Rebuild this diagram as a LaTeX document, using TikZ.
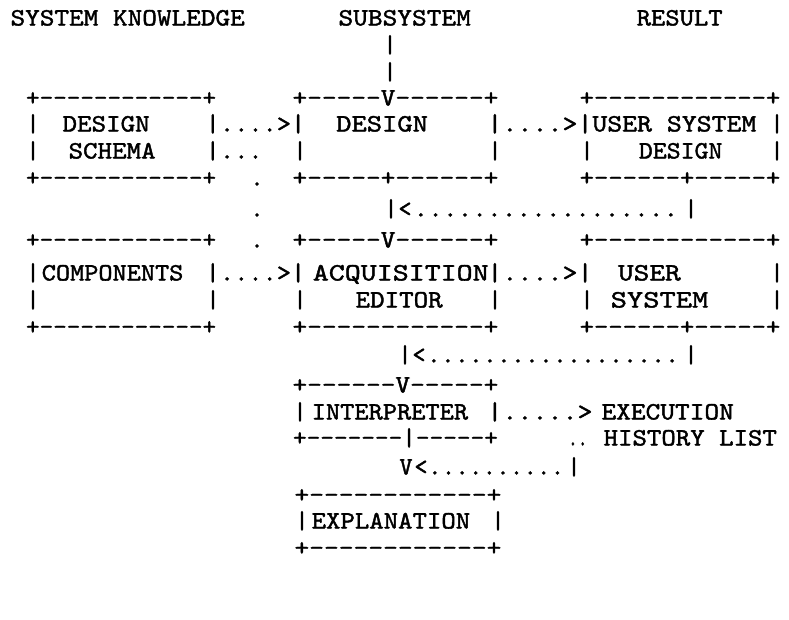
\documentclass[tikz,border=0pt]{standalone}
\usepackage{fontspec}
\usepackage{graphicx}
\newfontfamily\scanfont{lmmono10-regular.otf}[FakeBold=1.5]
\newcommand\cw{13.3875}
\tikzset{txt/.style={inner sep=0pt, outer sep=0pt, text=black,
  font=\scanfont\fontsize{25}{30}\selectfont}}
% centre height of each printed line
\newcommand\rowy[1]{\ifcase#1 18\or 45\or 72\or 98\or 124\or 151\or 178\or 209\or 240\or 273\or 300\or 327\or 355\or 385\or 412\or 438\or 467\or 495\or 521\or 548\fi}
% segment: name, first-char centre x, last-char centre x, row, number of chars, text
\newcommand\sg[6]{%
  \pgfmathsetmacro\sgpitch{(#3-#2)/(#5-1)}%
  \pgfmathsetmacro\sgscale{\sgpitch/\cw}%
  \node[txt, anchor=base west] (#1) at ({#2-\sgpitch/2},{\rowy{#4}+7.5}) {\scalebox{\sgscale}[1]{#6}};}
% single character centred at x
\newcommand\ch[4]{\node[txt, anchor=base] (#1) at (#2,{\rowy{#3}+7.5}) {#4};}
\begin{document}
\begin{tikzpicture}[x=1pt,y=-1pt]
\useasboundingbox[fill=white] (0,0) rectangle (789,619);
% row 0: titles
\sg{t1}{18}{242}{0}{16}{SYSTEM KNOWLEDGE}
\sg{t2}{346}{466}{0}{9}{SUBSYSTEM}
\sg{t3}{644}{717}{0}{6}{RESULT}
% rows 1-2
\ch{v1}{390}{1}{|}
\ch{v2}{390}{2}{|}
% row 3
\sg{b1t}{33}{213}{3}{14}{+------------+}
\sg{b2t}{300}{495}{3}{14}{+-----V------+}
\sg{b3t}{587}{777}{3}{14}{+------------+}
% row 4
\ch{p4a}{33}{4}{|}
\sg{w1}{70}{144}{4}{6}{DESIGN}
\sg{a1}{213}{300}{4}{7}{|....>|}
\sg{w2}{344}{422}{4}{6}{DESIGN}
\sg{a2}{495}{587}{4}{7}{|....>|}
\sg{w3}{600}{752}{4}{11}{USER SYSTEM}
\ch{p4b}{777}{4}{|}
% row 5
\ch{p5a}{33}{5}{|}
\sg{w4}{76}{150}{5}{6}{SCHEMA}
\sg{a3}{213}{256.5}{5}{4}{|...}
\ch{p5b}{300}{5}{|}
\ch{p5c}{495}{5}{|}
\ch{p5d}{587}{5}{|}
\sg{w5}{646}{717}{5}{6}{DESIGN}
\ch{p5e}{777}{5}{|}
% row 6
\sg{b1b}{33}{213}{6}{14}{+------------+}
\ch{d6}{257}{6}{.}
\sg{b2b}{300}{495}{6}{14}{+-----+------+}
\sg{b3b}{587}{777}{6}{14}{+------+-----+}
% row 7
\ch{d7}{257}{7}{.}
\ch{f1}{391}{7}{|}
\ch{f1b}{405}{7}{<}
\sg{f2}{421}{676}{7}{18}{..................}
\ch{f3}{691}{7}{|}
% row 8
\sg{b4t}{33}{213}{8}{14}{+------------+}
\ch{d8}{257}{8}{.}
\sg{b5t}{300}{495}{8}{14}{+-----V------+}
\sg{b6t}{587}{777}{8}{14}{+------------+}
% row 9
\ch{p9a}{33}{9}{|}
\sg{w6}{49}{179}{9}{10}{COMPONENTS}
\sg{a4}{213}{300}{9}{7}{|....>|}
\sg{w7}{321}{484}{9}{11}{ACQUISITION}
\sg{a5}{495}{587}{9}{7}{|....>|}
\sg{w8}{626}{674}{9}{4}{USER}
\ch{p9b}{777}{9}{|}
% row 10
\ch{p10a}{33}{10}{|}
\ch{p10b}{213}{10}{|}
\ch{p10c}{300}{10}{|}
\sg{w9}{363}{437}{10}{6}{EDITOR}
\ch{p10d}{495}{10}{|}
\ch{p10e}{587}{10}{|}
\sg{w10}{619}{702}{10}{6}{SYSTEM}
\ch{p10f}{777}{10}{|}
% row 11
\sg{b4b}{33}{213}{11}{14}{+------------+}
\sg{b5b}{300}{495}{11}{14}{+------------+}
\sg{b6b}{587}{777}{11}{14}{+------+-----+}
% row 12
\ch{g1}{405}{12}{|}
\ch{g1b}{419}{12}{<}
\sg{g2}{434}{677}{12}{18}{..................}
\ch{g3}{691}{12}{|}
% row 13
\sg{b7t}{300}{495}{13}{14}{+------V-----+}
% row 14
\ch{p14a}{300}{14}{|}
\sg{w11}{319}{464}{14}{11}{INTERPRETER}
\sg{h1}{495}{587}{14}{7}{|.....>}
\sg{w12}{609}{729}{14}{9}{EXECUTION}
% row 15
\sg{b7b}{300}{495}{15}{15}{+-------|-----+}
\sg{h2}{573}{583}{15}{2}{..}
\sg{w13}{611}{773}{15}{12}{HISTORY LIST}
% row 16
\ch{k1}{406}{16}{V}
\ch{k1b}{421}{16}{<}
\sg{k2}{435}{560}{16}{10}{..........}
\ch{k3}{574}{16}{|}
% row 17-19
\sg{b8t}{302}{498}{17}{14}{+------------+}
\ch{p18a}{302}{18}{|}
\sg{w14}{319}{466}{18}{11}{EXPLANATION}
\ch{p18b}{498}{18}{|}
\sg{b8b}{302}{498}{19}{14}{+------------+}
\end{tikzpicture}
\end{document}
